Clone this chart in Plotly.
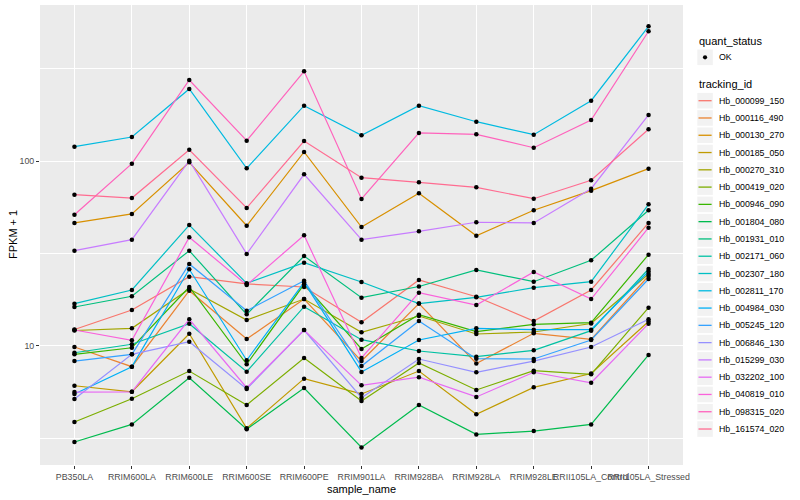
import plotly.graph_objects as go

# ---------------- data ----------------
samples = ["PB350LA", "RRIM600LA", "RRIM600LE", "RRIM600SE", "RRIM600PE",
           "RRIM901LA", "RRIM928BA", "RRIM928LA", "RRIM928LE",
           "RRII105LA_Control", "RRII105LA_Stressed"]

tracking_ids = ["Hb_000099_150", "Hb_000116_490", "Hb_000130_270", "Hb_000185_050",
                "Hb_000270_310", "Hb_000419_020", "Hb_000946_090", "Hb_001804_080",
                "Hb_001931_010", "Hb_002171_060", "Hb_002307_180", "Hb_002811_170",
                "Hb_004984_030", "Hb_005245_120", "Hb_006846_130", "Hb_015299_030",
                "Hb_032202_100", "Hb_040819_010", "Hb_098315_020", "Hb_161574_020"]

colors = ["#F8766D", "#EA8331", "#D89000", "#C09B00", "#A3A500", "#7CAE00",
          "#39B600", "#00BB4E", "#00BF7D", "#00C1A3", "#00BFC4", "#00BAE0",
          "#00B0F6", "#35A2FF", "#9590FF", "#C77CFF", "#E76BF3", "#FA62DB",
          "#FF62BC", "#FF6C91"]

# FPKM + 1 per tracking_id, in sample order
Hb_000099_150 = [12.24, 15.61, 23.64, 21.59, 20.79, 13.39, 22.69, 18.42, 13.61, 20.03, 46.2]
Hb_000116_490 = [9.84, 7.70, 19.85, 10.87, 17.89, 8.26, 16.92, 8.01, 11.67, 10.83, 23.85]
Hb_000130_270 = [46.2, 51.7, 98.4, 44.6, 111.9, 43.9, 66.9, 39.4, 54.1, 69.1, 90.9]
Hb_000185_050 = [6.07, 5.63, 11.61, 3.57, 6.63, 5.48, 7.29, 4.25, 5.95, 7.07, 13.52]
Hb_000270_310 = [12.09, 12.42, 20.28, 13.78, 17.89, 11.82, 14.48, 11.57, 11.86, 13.19, 24.44]
Hb_000419_020 = [3.86, 5.16, 7.29, 4.78, 8.58, 5.02, 8.06, 5.76, 7.32, 7.00, 16.06]
Hb_000946_090 = [8.98, 9.75, 20.79, 7.93, 21.50, 9.60, 14.72, 11.91, 13.06, 13.32, 31.09]
Hb_001804_080 = [3.01, 3.75, 6.71, 3.53, 5.90, 2.81, 4.78, 3.31, 3.45, 3.75, 8.91]
Hb_001931_010 = [16.20, 18.51, 32.68, 14.79, 30.59, 18.19, 20.92, 25.70, 22.21, 29.00, 54.09]
Hb_002171_060 = [9.16, 10.18, 13.16, 7.23, 16.26, 10.78, 9.36, 8.72, 9.44, 12.06, 26.02]
Hb_002307_180 = [16.88, 20.03, 45.0, 21.77, 28.14, 22.13, 16.92, 18.28, 20.61, 22.21, 58.31]
Hb_002811_170 = [119.5, 134.9, 245.4, 91.3, 199.3, 137.8, 199.3, 163.2, 138.8, 212.1, 536.1]
Hb_004984_030 = [5.48, 7.70, 25.92, 8.34, 22.04, 7.21, 10.74, 12.42, 12.21, 12.21, 25.22]
Hb_005245_120 = [8.26, 8.98, 27.69, 15.47, 22.49, 7.76, 13.61, 8.50, 8.47, 10.74, 22.97]
Hb_006846_130 = [5.15, 8.98, 10.51, 5.83, 12.16, 5.23, 8.47, 7.18, 8.26, 9.84, 13.90]
Hb_015299_030 = [32.7, 37.5, 100.4, 31.4, 84.7, 37.5, 41.6, 46.6, 46.2, 70.8, 177.5]
Hb_032202_100 = [5.61, 5.63, 13.90, 5.92, 12.16, 6.10, 6.75, 5.28, 7.18, 6.30, 13.16]
Hb_040819_010 = [12.16, 10.70, 38.63, 21.31, 39.60, 8.58, 19.36, 16.61, 25.06, 17.89, 43.53]
Hb_098315_020 = [51.2, 96.7, 274.5, 128.8, 305.9, 62.3, 141.8, 139.5, 118.0, 166.7, 503.8]
Hb_161574_020 = [65.7, 63.0, 115.1, 55.7, 128.3, 81.2, 76.7, 72.0, 62.5, 78.6, 148.5]

series_values = [Hb_000099_150, Hb_000116_490, Hb_000130_270, Hb_000185_050,
                 Hb_000270_310, Hb_000419_020, Hb_000946_090, Hb_001804_080,
                 Hb_001931_010, Hb_002171_060, Hb_002307_180, Hb_002811_170,
                 Hb_004984_030, Hb_005245_120, Hb_006846_130, Hb_015299_030,
                 Hb_032202_100, Hb_040819_010, Hb_098315_020, Hb_161574_020]

quant_status = ["OK"]
y_major_ticks = [10, 100]
y_minor_breaks = [3.1623, 31.623, 316.23]

# ---------------- figure ----------------
FONT = "Liberation Sans, Arial, Helvetica, sans-serif"
W, H = 800, 500
L, R, T, B = 40, 117, 5, 35
PW, PH = W - L - R, H - T - B

fig = go.Figure()

for name, vals, col in zip(tracking_ids, series_values, colors):
    fig.add_trace(go.Scatter(x=samples, y=vals, mode="lines", name=name,
                             line=dict(color=col, width=1.2), showlegend=False))
for name, vals in zip(tracking_ids, series_values):
    fig.add_trace(go.Scatter(x=samples, y=vals, mode="markers", name=name,
                             marker=dict(color="black", size=4.5), showlegend=False))

fig.update_layout(
    width=W, height=H,
    margin=dict(l=L, r=R, t=T, b=B, autoexpand=False),
    paper_bgcolor="white", plot_bgcolor="#EBEBEB",
    font=dict(family=FONT, color="#4D4D4D", size=9),
    showlegend=False,
)
fig.update_xaxes(type="category", categoryorder="array", categoryarray=samples,
                 range=[-0.6, len(samples) - 0.4],
                 showgrid=True, gridcolor="white", gridwidth=1.1,
                 ticks="outside", ticklen=3, tickwidth=1.1, tickcolor="#333333",
                 tickangle=0, tickfont=dict(size=8.8, color="#4D4D4D", family=FONT),
                 zeroline=False, showline=False, automargin=False)
fig.update_yaxes(type="log", range=[0.3541, 2.8446],
                 tickvals=y_major_ticks, ticktext=[str(v) for v in y_major_ticks],
                 showgrid=True, gridcolor="white", gridwidth=1.1,
                 minor=dict(tickvals=y_minor_breaks, showgrid=True, gridcolor="white",
                            gridwidth=0.55, ticks=""),
                 ticks="outside", ticklen=3, tickwidth=1.1, tickcolor="#333333",
                 tickfont=dict(size=8.8, color="#4D4D4D", family=FONT),
                 zeroline=False, showline=False, automargin=False)

def px2x(px):
    return (px - L) / PW

def py2y(py):
    return (H - B - py) / PH

# axis titles
fig.add_annotation(text="sample_name", x=0.5, y=py2y(488.5), xref="paper", yref="paper",
                   showarrow=False, font=dict(size=11, color="black", family=FONT),
                   xanchor="center", yanchor="middle")
fig.add_annotation(text="FPKM + 1", x=px2x(13), y=0.5, xref="paper", yref="paper",
                   showarrow=False, textangle=-90, font=dict(size=11, color="black", family=FONT),
                   xanchor="center", yanchor="middle")

# legend (ggplot style, drawn from the id / colour lists)
KEY_L, KEY_R = 697.3, 712.8
TEXT_X = 716.5
STEP = 17.28
KEY_HALF = 7.8

fig.add_annotation(text="quant_status", x=px2x(697), y=py2y(40.7), xref="paper", yref="paper",
                   showarrow=False, xanchor="left", yanchor="middle",
                   font=dict(size=11, color="black", family=FONT))
for i, qs in enumerate(quant_status):
    cy = 57.3 + i * STEP
    fig.add_shape(type="rect", xref="paper", yref="paper",
                  x0=px2x(KEY_L), x1=px2x(KEY_R), y0=py2y(cy + KEY_HALF), y1=py2y(cy - KEY_HALF),
                  fillcolor="#F2F2F2", line=dict(width=0))
    cx = (KEY_L + KEY_R) / 2
    fig.add_shape(type="circle", xref="paper", yref="paper",
                  x0=px2x(cx - 2.1), x1=px2x(cx + 2.1), y0=py2y(cy + 2.1), y1=py2y(cy - 2.1),
                  fillcolor="black", line=dict(width=0))
    fig.add_annotation(text=qs, x=px2x(TEXT_X), y=py2y(cy), xref="paper", yref="paper",
                       showarrow=False, xanchor="left", yanchor="middle",
                       font=dict(size=8.8, color="black", family=FONT))

fig.add_annotation(text="tracking_id", x=px2x(697), y=py2y(84.3), xref="paper", yref="paper",
                   showarrow=False, xanchor="left", yanchor="middle",
                   font=dict(size=11, color="black", family=FONT))
for i, (name, col) in enumerate(zip(tracking_ids, colors)):
    cy = 100.7 + i * STEP
    fig.add_shape(type="rect", xref="paper", yref="paper",
                  x0=px2x(KEY_L), x1=px2x(KEY_R), y0=py2y(cy + KEY_HALF), y1=py2y(cy - KEY_HALF),
                  fillcolor="#F2F2F2", line=dict(width=0))
    fig.add_shape(type="line", xref="paper", yref="paper",
                  x0=px2x(KEY_L + 1.2), x1=px2x(KEY_R - 1.2), y0=py2y(cy), y1=py2y(cy),
                  line=dict(color=col, width=1.3))
    fig.add_annotation(text=name, x=px2x(TEXT_X), y=py2y(cy), xref="paper", yref="paper",
                       showarrow=False, xanchor="left", yanchor="middle",
                       font=dict(size=8.8, color="black", family=FONT))

fig.write_html("out.html", config={"displayModeBar": False},
               post_script="document.body.style.margin='0';")
